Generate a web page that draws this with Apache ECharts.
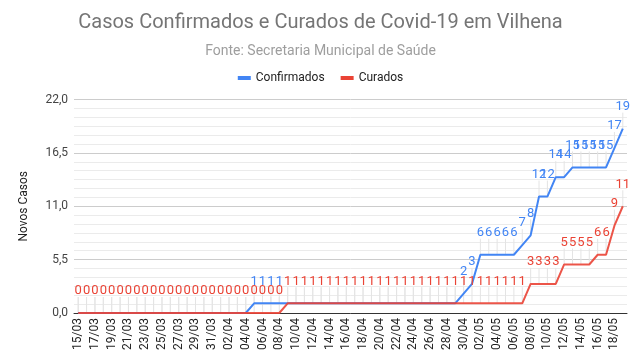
<!DOCTYPE html>
<html>
<head>
<meta charset="utf-8">
<script src="https://cdn.jsdelivr.net/npm/echarts@6/dist/echarts.min.js"></script>
<style>
html,body{margin:0;padding:0;background:#fff;}
#chart{width:641px;height:364px;}
</style>
</head>
<body>
<div id="chart"></div>
<script>
const dates = ['15/03','16/03','17/03','18/03','19/03','20/03','21/03','22/03','23/03','24/03','25/03','26/03','27/03','28/03','29/03','30/03','31/03',
'01/04','02/04','03/04','04/04','05/04','06/04','07/04','08/04','09/04','10/04','11/04','12/04','13/04','14/04','15/04','16/04','17/04','18/04','19/04','20/04','21/04','22/04','23/04','24/04','25/04','26/04','27/04','28/04','29/04','30/04',
'01/05','02/05','03/05','04/05','05/05','06/05','07/05','08/05','09/05','10/05','11/05','12/05','13/05','14/05','15/05','16/05','17/05','18/05','19/05'];

const confirmados = [0,0,0,0,0,0,0,0,0,0,0,0,0,0,0,0,0,0,0,0,0,
1,1,1,1,1,1,1,1,1,1,1,1,1,1,1,1,1,1,1,1,1,1,1,1,1,
2,3,6,6,6,6,6,7,8,12,12,14,14,15,15,15,15,15,17,19];

const curados = [0,0,0,0,0,0,0,0,0,0,0,0,0,0,0,0,0,0,0,0,0,0,0,0,0,
1,1,1,1,1,1,1,1,1,1,1,1,1,1,1,1,1,1,1,1,1,1,1,1,1,1,1,1,1,
3,3,3,3,5,5,5,5,6,6,9,11];

const yTickLabels = ['0,0','5,5','11,0','16,5','22,0'];

const BLUE = '#4285F4';
const RED = '#EA4335';
const FONT = 'Roboto, Arial, sans-serif';

function stemData(vals){ return vals.map((v,i)=>[i,v]); }
const blueLabels = confirmados.map((v,i)=>[i,v,v!==curados[i]?1:0]);
const redLabels = curados.map((v,i)=>[i,v,1]);

function stemRender(params, api){
  const p = api.coord([api.value(0), api.value(1)]);
  return {type:'line', shape:{x1:p[0],y1:p[1],x2:p[0],y2:p[1]-16},
    style:{stroke:'#e4e4e4', lineWidth:1}, silent:true};
}
function labelRender(color){
  return function(params, api){
    if(!api.value(2)) return null;
    const p = api.coord([api.value(0), api.value(1)]);
    return {type:'text', x:p[0], y:p[1]-22,
      style:{text:String(api.value(1)), fill:color, font:'13px '+FONT, align:'center', verticalAlign:'middle'}, silent:true};
  };
}

const chart = echarts.init(document.getElementById('chart'), null, {renderer:'canvas'});
chart.setOption({
  animation:false,
  backgroundColor:'#fff',
  title:[
    {text:'Casos Confirmados e Curados de Covid-19 em Vilhena', left:'center', top:8,
     textStyle:{fontFamily:FONT, fontSize:20, fontWeight:'normal', color:'#757575'}},
    {text:'Fonte: Secretaria Municipal de Saúde', left:'center', top:39,
     textStyle:{fontFamily:FONT, fontSize:14, fontWeight:'normal', color:'#9e9e9e'}}
  ],
  legend:{
    top:67, left:'center', icon:'rect', itemWidth:13, itemHeight:4, itemGap:16,
    textStyle:{fontFamily:FONT, fontSize:12, color:'#222'},
    data:['Confirmados','Curados']
  },
  grid:{left:74, right:14, top:99.5, bottom:51, containLabel:false},
  xAxis:{
    type:'category', data:dates, boundaryGap:true,
    axisLine:{show:true, lineStyle:{color:'#333', width:1}},
    axisTick:{show:false},
    axisLabel:{interval:1, rotate:90, margin:5, fontFamily:FONT, fontSize:12, color:'#222'},
    splitLine:{show:false}
  },
  yAxis:{
    type:'value', min:0, max:22, interval:5.5,
    name:'Novos Casos', nameLocation:'middle', nameGap:44,
    nameTextStyle:{fontFamily:FONT, fontSize:12, color:'#222'},
    axisLine:{show:false}, axisTick:{show:false},
    axisLabel:{margin:6, fontFamily:FONT, fontSize:12, color:'#444',
      formatter:function(v){ return yTickLabels[Math.round(v/5.5)]; }},
    splitLine:{lineStyle:{color:'#cccccc', width:1}},
    minorTick:{show:false, splitNumber:6},
    minorSplitLine:{show:true, lineStyle:{color:'#ebebeb', width:1}}
  },
  series:[
    {type:'custom', name:'stemsB', renderItem:stemRender, data:stemData(confirmados), z:1, encode:{x:0,y:1}, silent:true},
    {type:'custom', name:'stemsR', renderItem:stemRender, data:stemData(curados), z:1, encode:{x:0,y:1}, silent:true},
    {type:'line', name:'Confirmados', data:confirmados, color:BLUE, showSymbol:false, symbol:'none',
     lineStyle:{width:2, color:BLUE}, z:3},
    {type:'line', name:'Curados', data:curados, color:RED, showSymbol:false, symbol:'none',
     lineStyle:{width:2, color:RED, opacity:0.9}, z:4},
    {type:'custom', name:'lblB', renderItem:labelRender(BLUE), data:blueLabels, z:5, encode:{x:0,y:1}, silent:true},
    {type:'custom', name:'lblR', renderItem:labelRender(RED), data:redLabels, z:6, encode:{x:0,y:1}, silent:true}
  ]
});
</script>
</body>
</html>
